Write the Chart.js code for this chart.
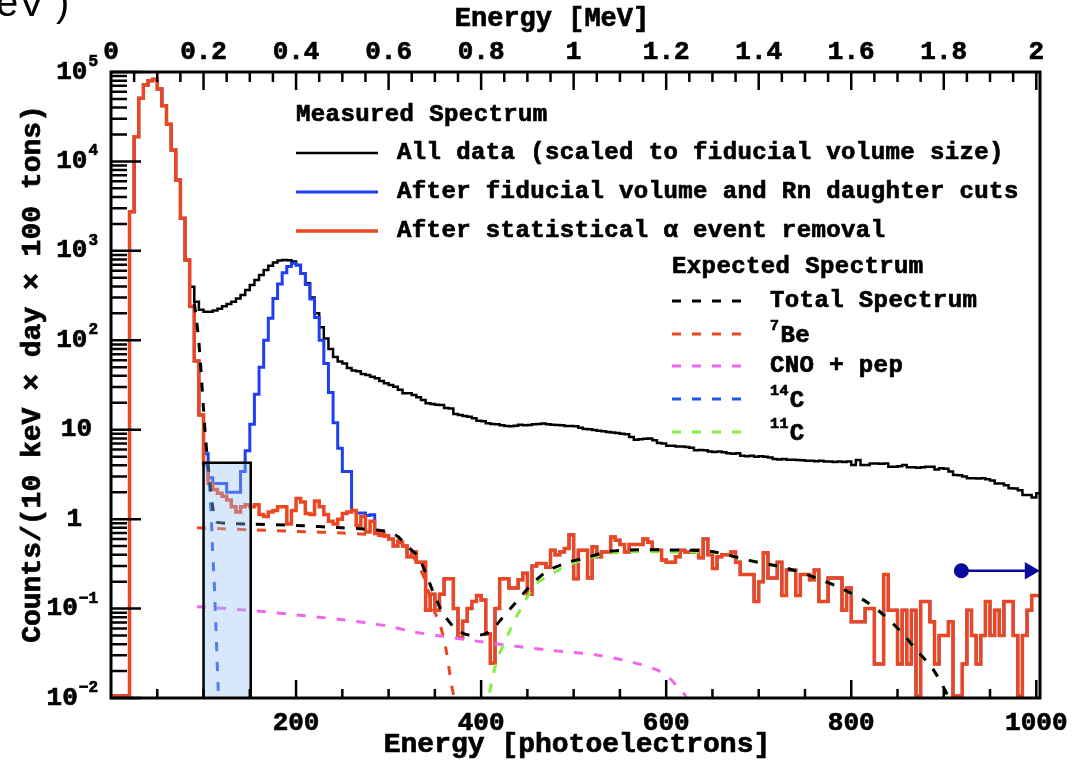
<!DOCTYPE html>
<html>
<head>
<meta charset="utf-8">
<title>Borexino spectrum</title>
<script src="https://cdn.jsdelivr.net/npm/chart.js@4.4.1/dist/chart.umd.min.js"></script>
<style>
  html, body { margin: 0; padding: 0; background: #fff; }
  #wrap { width: 1088px; height: 762px; }
</style>
</head>
<body>
<div id="wrap"><canvas id="spectrum" width="1088" height="762"></canvas></div>
<script>
const binWidth = 5; // photoelectrons per bin (= 10 keV)

// bin contents, one value per 5 pe bin starting at 0 pe
const allData = [
  0, 0, 0, 0, 2740, 18900, 50800, 71600, 80000, 82800,
  64500, 42000, 26000, 13400, 6200, 2310, 790, 398, 270, 219,
  209, 209, 215, 225, 240, 255, 270, 294, 321, 365,
  415, 472, 537, 611, 680, 740, 780, 790, 785, 760,
  695, 561, 433, 300, 200, 140, 105, 80, 65, 58,
  55, 49, 46, 45, 42, 41, 39, 37.6, 35, 33,
  31.6, 30.3, 28, 25.5, 25.5, 24.4, 23, 21.5, 19.8, 19.4,
  19, 18.9, 17.5, 17.3, 15, 14.6, 14.2, 14, 13.4, 12.6,
  12.4, 11.8, 11.6, 11.5, 11.2, 11.0, 10.9, 11.1, 11.4, 11.2,
  11.3, 11.5, 11.6, 11.7, 11.5, 11.4, 11.3, 11.2, 11.0, 11.0,
  10.9, 10.5, 10.2, 10.1, 9.9, 9.75, 9.6, 9.4, 9.3, 9.2,
  9.0, 8.9, 8.3, 7.7, 7.8, 7.9, 8.0, 7.6, 7.1, 7.0,
  6.6, 6.6, 6.5, 6.5, 6.4, 6.3, 5.9, 5.95, 5.9, 5.7,
  5.65, 5.7, 5.6, 5.45, 5.4, 5.45, 5.1, 5.05, 5.1, 5.0,
  5.05, 5.0, 4.9, 4.7, 4.65, 4.7, 4.6, 4.6, 4.58, 4.55,
  4.5, 4.5, 4.45, 4.5, 4.4, 4.4, 4.35, 4.4, 4.35, 4.4,
  4.03, 4.58, 4.03, 4.03, 4.2, 4.2, 4.15, 4.2, 3.86, 3.86,
  3.9, 4.03, 3.8, 3.8, 3.75, 3.8, 3.86, 3.86, 3.6, 3.7,
  3.65, 3.4, 3.12, 3.1, 3.0, 2.86, 2.86, 2.85, 2.86, 2.8,
  2.7, 2.51, 2.5, 2.4, 2.21, 2.2, 2.1, 1.86, 1.86, 1.75,
  1.95
];

const fvCuts = [
  0, 0, 0, 0, 2740, 18900, 50800, 71600, 80000, 82800,
  64500, 42000, 26000, 13400, 6200, 2310, 790, 238, 58.7, 14.6,
  5.4, 2.9, 2.5, 2.5, 2.5, 2.0, 2.0, 2.0, 3.4, 5.8,
  11.5, 25, 50, 100, 176, 294, 425, 570, 670, 725,
  690, 560, 420, 290, 180, 100, 55, 26, 12, 6.2,
  3.4, 3.4, 1.25, 1.17, 1.17, 1.1, 1.12, 0.69, 0.7, 0.65,
  0.6, 0.5, 0.55, 0.5, 0.38, 0.43, 0.33, 0.33, 0.096, 0.145,
  0.096, 0.145, 0.215, 0.215, 0.1, 0.047, 0.072, 0.1, 0.12, 0.14,
  0.125, 0.052, 0.0244, 0.1, 0.215, 0.215, 0.17, 0.17, 0.21, 0.248,
  0.145, 0.3, 0.32, 0.32, 0.29, 0.45, 0.4, 0.43, 0.47, 0.67,
  0.215, 0.45, 0.45, 0.22, 0.49, 0.38, 0.43, 0.43, 0.63, 0.58,
  0.52, 0.43, 0.52, 0.52, 0.52, 0.6, 0.55, 0.45, 0.45, 0.35,
  0.33, 0.33, 0.38, 0.45, 0.43, 0.43, 0.45, 0.37, 0.6, 0.4,
  0.28, 0.38, 0.4, 0.4, 0.43, 0.33, 0.24, 0.24, 0.24, 0.12,
  0.2, 0.42, 0.22, 0.22, 0.33, 0.14, 0.27, 0.27, 0.14, 0.24,
  0.24, 0.21, 0.27, 0.12, 0.12, 0.22, 0.22, 0.22, 0.096, 0.17,
  0.071, 0.071, 0.071, 0.1, 0.1, 0.024, 0.024, 0.24, 0.096, 0.096,
  0.024, 0.096, 0.024, 0.096, 0, 0.12, 0.12, 0.071, 0.024, 0.05,
  0.05, 0.071, 0, 0, 0.024, 0.096, 0.05, 0.024, 0.05, 0.12,
  0.05, 0.096, 0.05, 0.12, 0.12, 0.05, 0, 0.05, 0.096, 0.14,
  0.14
];

const alphaRemoved = [
  0, 0, 0, 0, 2740, 18900, 50800, 71600, 80000, 82800,
  64500, 42000, 26000, 13400, 6200, 2310, 790, 238, 58.7, 14.6,
  4.2, 2.5, 2.15, 1.95, 1.8, 1.64, 1.38, 1.2, 1.38, 1.45,
  1.38, 1.45, 1.13, 1.07, 1.2, 1.25, 1.38, 1.38, 0.88, 1.25,
  1.7, 1.55, 1.16, 1.13, 1.6, 1.38, 1.13, 0.95, 0.88, 1.0,
  1.16, 1.2, 1.25, 0.85, 1.07, 0.72, 0.95, 0.69, 0.7, 0.65,
  0.6, 0.5, 0.55, 0.5, 0.38, 0.43, 0.33, 0.33, 0.096, 0.145,
  0.096, 0.145, 0.215, 0.215, 0.1, 0.047, 0.072, 0.1, 0.12, 0.14,
  0.125, 0.052, 0.0244, 0.1, 0.215, 0.215, 0.17, 0.17, 0.21, 0.248,
  0.145, 0.3, 0.32, 0.32, 0.29, 0.45, 0.4, 0.43, 0.47, 0.67,
  0.215, 0.45, 0.45, 0.22, 0.49, 0.38, 0.43, 0.43, 0.63, 0.58,
  0.52, 0.43, 0.52, 0.52, 0.52, 0.6, 0.55, 0.45, 0.45, 0.35,
  0.33, 0.33, 0.38, 0.45, 0.43, 0.43, 0.45, 0.37, 0.6, 0.4,
  0.28, 0.38, 0.4, 0.4, 0.43, 0.33, 0.24, 0.24, 0.24, 0.12,
  0.2, 0.42, 0.22, 0.22, 0.33, 0.14, 0.27, 0.27, 0.14, 0.24,
  0.24, 0.21, 0.27, 0.12, 0.12, 0.22, 0.22, 0.22, 0.096, 0.17,
  0.071, 0.071, 0.071, 0.1, 0.1, 0.024, 0.024, 0.24, 0.096, 0.096,
  0.024, 0.096, 0.024, 0.096, 0, 0.12, 0.12, 0.071, 0.024, 0.05,
  0.05, 0.071, 0, 0, 0.024, 0.096, 0.05, 0.024, 0.05, 0.12,
  0.05, 0.096, 0.05, 0.12, 0.12, 0.05, 0, 0.05, 0.096, 0.14,
  0.14
];

// expected spectrum components (pe, counts)
const totalX = [90, 92, 94, 96, 98, 100, 102, 104, 106, 108, 110, 112, 115, 150, 200, 250, 270, 290, 300, 310, 320, 332, 340, 348, 359, 374, 390, 408, 424, 438, 455, 471, 494, 512, 537, 561, 580, 600, 620, 651, 687, 730, 762, 791, 817, 835, 853, 871, 889, 905, 912];
const totalY = [260, 183, 120, 70, 35, 17, 8.5, 5, 3.2, 2.0, 1.35, 1.0, 0.92, 0.88, 0.85, 0.8, 0.78, 0.75, 0.72, 0.64, 0.5, 0.38, 0.25, 0.155, 0.0885, 0.0576, 0.0498, 0.0542, 0.081, 0.119, 0.188, 0.26, 0.33, 0.365, 0.433, 0.452, 0.455, 0.452, 0.45, 0.433, 0.35, 0.283, 0.22, 0.165, 0.118, 0.085, 0.056, 0.034, 0.0205, 0.0103, 0.007];

const be7X = [93, 120, 150, 200, 250, 280, 300, 312, 322, 332, 340, 348, 355, 362, 368, 371, 373];
const be7Y = [0.8, 0.78, 0.76, 0.73, 0.7, 0.67, 0.63, 0.56, 0.44, 0.31, 0.2, 0.1, 0.07, 0.035, 0.014, 0.01, 0.008];

const cnoX = [93, 147, 200, 250, 298, 326, 362, 399, 471, 525, 561, 590, 604, 613, 619, 624];
const cnoY = [0.105, 0.096, 0.085, 0.075, 0.064, 0.055, 0.0485, 0.0427, 0.0344, 0.0303, 0.0255, 0.0206, 0.0166, 0.013, 0.0113, 0.009];

const c14X = [103, 104, 105.5, 107, 108, 109, 109.8, 110.5, 111.3, 112.4, 113.5, 114.5, 115.6, 116.5];
const c14Y = [4.3, 3.8, 3.26, 2.0, 1.26, 0.75, 0.45, 0.32, 0.227, 0.115, 0.058, 0.029, 0.0146, 0.008];

const c11X = [404, 408, 417, 428, 442, 460, 478, 492, 514, 543, 564, 600, 620, 651, 687, 730, 762, 791, 817, 835, 853, 871, 889, 905, 912];
const c11Y = [0.007, 0.0103, 0.026, 0.0485, 0.096, 0.19, 0.248, 0.3, 0.36, 0.42, 0.433, 0.43, 0.43, 0.425, 0.35, 0.283, 0.22, 0.165, 0.118, 0.085, 0.056, 0.034, 0.0205, 0.0103, 0.007];

// shaded window and arrow marker
const windowX = [100, 100, 151, 151];
const windowY = [0.01, 4.28, 4.28, 0.01];
const arrowX = [919, 993];
const arrowY = [0.265, 0.265];

// axis ticks
const peLabels = [200, 400, 600, 800, 1000];
const mevLabels = [0, 0.2, 0.4, 0.6, 0.8, 1, 1.2, 1.4, 1.6, 1.8, 2];
const decades = [-2, -1, 0, 1, 2, 3, 4, 5];

const monoFont = '"Liberation Mono", "DejaVu Sans Mono", monospace';
const black = "#000000";
const blue = "#1f3ff2";
const orange = "#ea4822";
const magenta = "#ee66ee";
const green = "#88ee44";

function histPoints(values) {
  // zero bins sit on the lower edge of the plot
  const pts = values.map((v, i) => ({ x: i * binWidth, y: v > 0 ? v : 0.0105 }));
  pts.push({ x: values.length * binWidth, y: pts[pts.length - 1].y });
  return pts;
}

function curvePoints(xs, ys) {
  return xs.map((x, i) => ({ x: x, y: ys[i] }));
}

function histSet(label, values, color, width, order) {
  return {
    label: label,
    data: histPoints(values),
    borderColor: color,
    borderWidth: width,
    stepped: true,
    pointRadius: 0,
    fill: false,
    order: order
  };
}

function dashSet(label, xs, ys, color, order) {
  return {
    label: label,
    data: curvePoints(xs, ys),
    borderColor: color,
    borderWidth: 3,
    borderDash: [9, 11],
    pointRadius: 0,
    tension: 0.3,
    fill: false,
    order: order
  };
}

// heavy text: fill plus a thin outline, to get close to the original bold face
function heavyText(ctx, text, x, y, size) {
  ctx.font = "bold " + size + "px " + monoFont;
  ctx.lineWidth = 0.7;
  ctx.setLineDash([]);
  ctx.strokeStyle = black;
  ctx.fillStyle = black;
  ctx.fillText(text, x, y);
  ctx.strokeText(text, x, y);
  return ctx.measureText(text).width;
}

function supText(ctx, sup, text, x, y, size) {
  const w = heavyText(ctx, sup, x, y - 10, 15);
  heavyText(ctx, text, x + w + 1, y, size);
}

function drawLegend(ctx) {
  ctx.textAlign = "left";
  ctx.textBaseline = "middle";
  ctx.letterSpacing = "0.4px";
  heavyText(ctx, "Measured Spectrum", 296, 115, 24);

  const solid = [
    ["All data (scaled to fiducial volume size)", black, 153, 2.5],
    ["After fiducial volume and Rn daughter cuts", blue, 192, 3],
    ["After statistical \u03b1 event removal", orange, 231, 3.5]
  ];
  solid.forEach(item => {
    ctx.strokeStyle = item[1];
    ctx.lineWidth = item[3];
    ctx.setLineDash([]);
    ctx.beginPath();
    ctx.moveTo(296, item[2]);
    ctx.lineTo(378, item[2]);
    ctx.stroke();
    heavyText(ctx, item[0], 397, item[2], 24);
  });

  heavyText(ctx, "Expected Spectrum", 672, 267, 24);

  const dashed = [
    ["", "Total Spectrum", black, 301],
    ["7", "Be", orange, 334],
    ["", "CNO + pep", magenta, 366],
    ["14", "C", "#2255ee", 399],
    ["11", "C", green, 432]
  ];
  dashed.forEach(item => {
    ctx.strokeStyle = item[2];
    ctx.lineWidth = 3;
    ctx.setLineDash([9, 11]);
    ctx.beginPath();
    ctx.moveTo(672, item[3]);
    ctx.lineTo(746, item[3]);
    ctx.stroke();
    ctx.setLineDash([]);
    if (item[0]) {
      supText(ctx, item[0], item[1], 770, item[3] + 2, 24);
    } else {
      heavyText(ctx, item[1], 770, item[3], 24);
    }
  });
  ctx.letterSpacing = "0px";
}

const frameAndText = {
  id: "frameAndText",
  afterDraw(chart) {
    const ctx = chart.ctx;
    const a = chart.chartArea;
    const xs = chart.scales.x;
    const xt = chart.scales.x2;
    const ys = chart.scales.y;
    ctx.save();
    ctx.strokeStyle = black;
    ctx.fillStyle = black;

    // tick marks pointing into the plot
    ctx.lineWidth = 2.5;
    ctx.beginPath();
    decades.forEach(e => {
      const py = ys.getPixelForValue(Math.pow(10, e));
      ctx.moveTo(a.left, py);
      ctx.lineTo(a.left + 30, py);
      if (e < 5) {
        for (let k = 2; k < 10; k++) {
          const my = ys.getPixelForValue(k * Math.pow(10, e));
          ctx.moveTo(a.left, my);
          ctx.lineTo(a.left + 16, my);
        }
      }
    });
    for (let v = 50; v <= 1000; v += 50) {
      const px = xs.getPixelForValue(v);
      ctx.moveTo(px, a.bottom);
      ctx.lineTo(px, a.bottom - (v % 200 === 0 ? 18 : 9));
    }
    for (let k = 1; k <= 40; k++) {
      const px = xt.getPixelForValue(k * 0.05);
      ctx.moveTo(px, a.top);
      ctx.lineTo(px, a.top + (k % 4 === 0 ? 18 : 10));
    }
    ctx.stroke();

    ctx.lineWidth = 3;
    ctx.strokeRect(a.left, a.top, a.right - a.left, a.bottom - a.top);

    // tick labels
    ctx.textBaseline = "middle";
    ctx.textAlign = "center";
    peLabels.forEach(v => heavyText(ctx, String(v), xs.getPixelForValue(v), 723, 26));
    mevLabels.forEach(v => heavyText(ctx, String(v), xt.getPixelForValue(v), 52, 26));

    ctx.textAlign = "right";
    decades.forEach(e => {
      const py = ys.getPixelForValue(Math.pow(10, e));
      if (e === 0) {
        heavyText(ctx, "1", 82, py, 26);
      } else if (e === 1) {
        heavyText(ctx, "10", 92, py, 26);
      } else {
        const sup = String(e).replace("-", "\u2212");
        const w = heavyText(ctx, sup, 98, py - 10, 16);
        heavyText(ctx, "10", 97 - w, py, 26);
      }
    });

    // axis titles
    ctx.textAlign = "center";
    heavyText(ctx, "Energy [MeV]", 552, 19, 27);
    heavyText(ctx, "Energy [photoelectrons]", 577, 745, 28);
    ctx.save();
    ctx.translate(33, 374);
    ctx.rotate(-Math.PI / 2);
    heavyText(ctx, "Counts/(10 keV \u00d7 day \u00d7 100 tons)", 0, 0, 28);
    ctx.restore();

    // cropped caption fragment in the corner
    ctx.textAlign = "left";
    ctx.textBaseline = "alphabetic";
    ctx.font = "40px \"Liberation Sans\", Arial, sans-serif";
    ctx.fillText("eV )", -4, 16);

    drawLegend(ctx);
    ctx.restore();
  }
};

const ctx = document.getElementById("spectrum").getContext("2d");

new Chart(ctx, {
  type: "line",
  data: {
    datasets: [
      {
        label: "arrow",
        data: curvePoints(arrowX, arrowY),
        borderColor: "#0a0a9c",
        borderWidth: 2.5,
        pointStyle: ["circle", "triangle"],
        pointRotation: [0, 90],
        pointRadius: [7.5, 10],
        pointBackgroundColor: "#0a0a9c",
        pointBorderWidth: 0,
        fill: false,
        order: 0
      },
      {
        label: "window",
        data: curvePoints(windowX, windowY),
        borderColor: black,
        borderWidth: 2.5,
        backgroundColor: "rgba(150, 195, 245, 0.38)",
        pointRadius: 0,
        fill: "start",
        order: 1
      },
      dashSet("Total Spectrum", totalX, totalY, black, 2),
      dashSet("11C", c11X, c11Y, green, 3),
      dashSet("14C", c14X, c14Y, "#2255ee", 4),
      dashSet("CNO + pep", cnoX, cnoY, magenta, 5),
      dashSet("7Be", be7X, be7Y, orange, 6),
      histSet("After statistical \u03b1 event removal", alphaRemoved, orange, 3.5, 7),
      histSet("After fiducial volume and Rn daughter cuts", fvCuts, blue, 3, 8),
      histSet("All data (scaled to fiducial volume size)", allData, black, 2.5, 9)
    ]
  },
  options: {
    responsive: false,
    animation: false,
    devicePixelRatio: 1,
    layout: { padding: { left: 111, right: 48, top: 72, bottom: 64 } },
    plugins: {
      legend: { display: false },
      tooltip: { enabled: false }
    },
    scales: {
      x: { type: "linear", min: 0, max: 1004, display: false },
      x2: { type: "linear", position: "top", min: 0, max: 2.008, display: false },
      y: { type: "logarithmic", min: 0.01, max: 100000, display: false }
    }
  },
  plugins: [frameAndText]
});
</script>
</body>
</html>
